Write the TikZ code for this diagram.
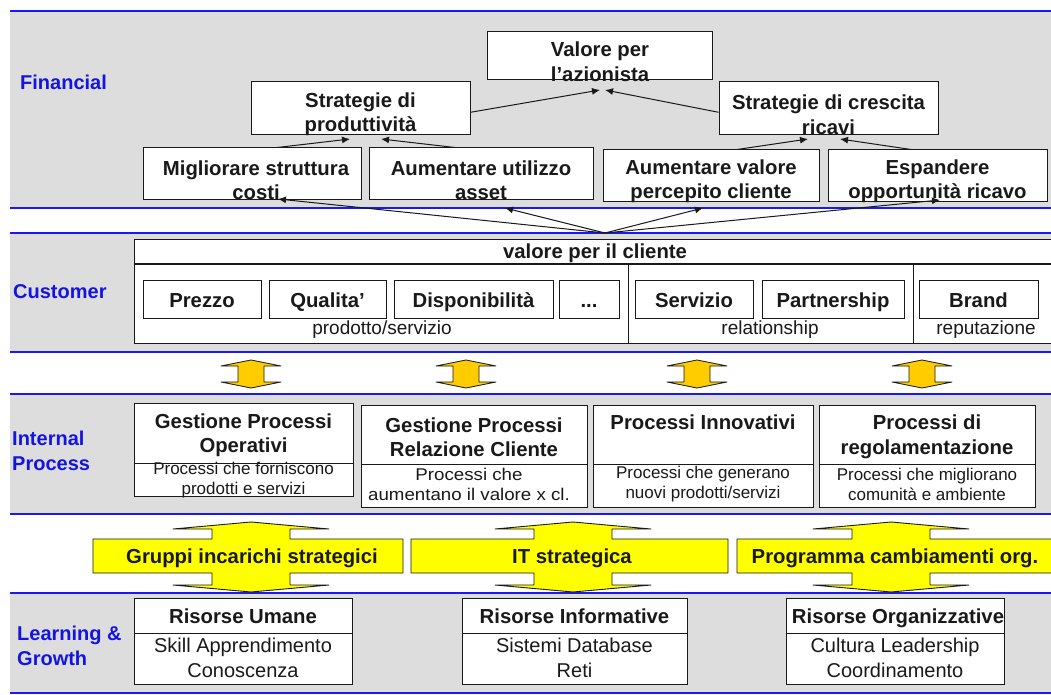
\documentclass[tikz,border=0pt]{standalone}
\usepackage{fontspec}
\setmainfont{Liberation Sans}
\usetikzlibrary{arrows.meta,fit,calc}
\definecolor{bandgray}{RGB}{221,221,221}
\definecolor{laneblue}{RGB}{25,25,240}
\definecolor{labelblue}{RGB}{20,20,225}
\definecolor{gold}{RGB}{255,204,0}
\definecolor{brightyellow}{RGB}{255,255,0}
\definecolor{ink}{RGB}{25,25,25}

% flat vertical double arrow between two lanes
\newcommand\smallupdown[1]{%
  \filldraw[smallarr] (#1,360) -- (#1+30,366) -- (#1+13,366) -- (#1+13,382)
    -- (#1+30,382) -- (#1,388) -- (#1-30,382) -- (#1-13,382) -- (#1-13,366)
    -- (#1-30,366) -- cycle;}
% horizontal banner crossed by a vertical double arrow
\newcommand\bigcross[3]{%
  \filldraw[bigarr] (#1,522) -- (#1+78,529) -- (#1+39,529) -- (#1+39,539)
    -- (#3,539) -- (#3,573) -- (#1+39,573) -- (#1+39,585) -- (#1+78,585)
    -- (#1,592) -- (#1-78,585) -- (#1-39,585) -- (#1-39,573) -- (#2,573)
    -- (#2,539) -- (#1-39,539) -- (#1-39,529) -- (#1-78,529) -- cycle;}

\begin{document}
\begin{tikzpicture}[x=1pt,y=-1pt,
  laneline/.style={draw=laneblue,line width=1.4pt},
  lane/.style={anchor=west,align=left,inner sep=0pt,text=labelblue,
    font={\fontsize{20}{25}\selectfont\bfseries}},
  box/.style={draw=ink,line width=1pt,fill=white,inner sep=0pt},
  boxline/.style={draw=ink,line width=1pt},
  bt/.style={inner sep=0pt,align=center,text=ink,
    font={\fontsize{20.3}{24.5}\selectfont\bfseries}},
  single/.style={text height=15pt,text depth=4pt},
  rt/.style={inner sep=0pt,align=center,text=ink,
    font={\fontsize{17}{20}\selectfont}},
  rtl/.style={inner sep=0pt,align=center,text=ink,
    font={\fontsize{20}{25}\selectfont}},
  grp/.style={inner sep=0pt,align=center,text=ink,text height=14pt,text depth=4pt,
    font={\fontsize{19}{22}\selectfont}},
  conn/.style={draw=ink,line width=1pt,-{Latex[length=8pt,width=7pt]}},
  smallarr/.style={fill=gold,draw=ink,line width=0.8pt,line join=round},
  bigarr/.style={fill=brightyellow,draw=ink,line width=0.9pt,line join=round}]

\useasboundingbox (0,0) rectangle (1051,695);
\clip (0,0) rectangle (1051,695);
\fill[white] (0,0) rectangle (1051,695);

% lane backgrounds and separators
\fill[bandgray] (10,11) rectangle (1051,208);
\fill[bandgray] (10,233) rectangle (1051,352);
\fill[bandgray] (10,394) rectangle (1051,514);
\fill[bandgray] (10,593) rectangle (1051,693);
\foreach \y in {11,208,233,352,394,514,593,693}
  \draw[laneline] (10,\y) -- (1051,\y);

% lane titles
\node[lane] (lane-fin) at (20,82) {Financial};
\node[lane] (lane-cus) at (13,292) {Customer};
\node[lane] (lane-int) at (12,451) {Internal\\Process};
\node[lane] (lane-lea) at (17,646) {Learning \&\\Growth};

% ---------------- Financial ----------------
\node[box,fit={(487,32) (712,80)}] (val) {};
\node[box,fit={(251,82) (470,135)}] (prod) {};
\node[box,fit={(719,82) (938,135)}] (cres) {};
\node[box,fit={(143,148) (361,199)}] (mig) {};
\node[box,fit={(369,148) (593,199)}] (util) {};
\node[box,fit={(603,150) (819,201)}] (aval) {};
\node[box,fit={(828,150) (1047,201)}] (esp) {};

\node[bt] (val-t) at (600,61.5) {Valore per\\l’azionista};
\node[bt] (prod-t) at (360.5,114.5) {Strategie di\\produttività};
\node[bt] (cres-t) at (828.5,114.5) {Strategie di crescita\\ricavi};
\node[bt] (mig-t) at (256,180) {Migliorare struttura\\costi};
\node[bt] (util-t) at (481,180) {Aumentare utilizzo\\asset};
\node[bt] (aval-t) at (711,181.5) {Aumentare valore\\percepito cliente};
\node[bt] (esp-t) at (937.5,181.5) {Espandere\\opportunità ricavo};

\coordinate (vL) at (600,90);
\coordinate (vR) at (605,90);
\coordinate (pL) at (350,139);
\coordinate (pR) at (381,139);
\coordinate (cL) at (808,139);
\coordinate (cR) at (840,139);
\draw[conn] ($(prod.north east)!0.57!(prod.south east)$) -- (vL);
\draw[conn] ($(cres.north west)!0.57!(cres.south west)$) -- (vR);
\draw[conn] ($(mig.north west)!0.615!(mig.north east)$) -- (pL);
\draw[conn] ($(util.north west)!0.384!(util.north east)$) -- (pR);
\draw[conn] ($(aval.north west)!0.62!(aval.north east)$) -- (cL);
\draw[conn] ($(esp.north west)!0.38!(esp.north east)$) -- (cR);

% ---------------- Customer ----------------
\node[box,fit={(134,239) (1060,343)}] (cv) {};
\draw[boxline,line width=1.7pt] (134,264) -- (1060,264);
\draw[boxline] (628,264) -- (628,343);
\draw[boxline] (913,264) -- (913,343);
\node[bt,single] (cv-t) at (595,252.5) {valore per il cliente};

\node[box,fit={(143,280) (261,318)}] (pre) {};
\node[box,fit={(269,280) (386,318)}] (qua) {};
\node[box,fit={(394,280) (553,318)}] (dis) {};
\node[box,fit={(559,280) (619,318)}] (dots) {};
\node[box,fit={(635,280) (753,318)}] (ser) {};
\node[box,fit={(762,280) (904,318)}] (par) {};
\node[box,fit={(919,280) (1038,318)}] (bra) {};
\node[bt,single] (pre-t) at (202,302) {Prezzo};
\node[bt,single] (qua-t) at (327.5,302) {Qualita’};
\node[bt,single] (dis-t) at (473.5,302) {Disponibilità};
\node[bt,single] (dots-t) at (589,302) {...};
\node[bt,single] (ser-t) at (694,302) {Servizio};
\node[bt,single] (par-t) at (833,302) {Partnership};
\node[bt,single] (bra-t) at (978.5,302) {Brand};
\node[grp] (g1) at (382,329) {prodotto/servizio};
\node[grp] (g2) at (770,329) {relationship};
\node[grp] (g3) at (986,329) {reputazione};

% fan of arrows from the customer value
\coordinate (fan) at (605,233);
\coordinate (f1) at (278,199);
\coordinate (f2) at (505,208);
\coordinate (f3) at (703,208);
\coordinate (f4) at (940,200);
\foreach \t in {f1,f2,f3,f4} \draw[conn] (fan) -- (\t);

% links between customer and internal process
\smallupdown{251}
\smallupdown{466}
\smallupdown{697}
\smallupdown{922}

% ---------------- Internal process ----------------
\node[box,fit={(134,403) (353,496)}] (ip1) {};
\node[box,fit={(361,405) (587,507)}] (ip2) {};
\node[box,fit={(593,405) (813,507)}] (ip3) {};
\node[box,fit={(819,405) (1035,507)}] (ip4) {};
\draw[boxline] (134,463) -- (353,463);
\draw[boxline] (361,464) -- (587,464);
\draw[boxline] (593,464) -- (813,464);
\draw[boxline] (819,464) -- (1035,464);

\node[bt] (ip1-t) at (243.5,435) {Gestione Processi\\Operativi};
\node[bt] (ip2-t) at (474,437) {Gestione Processi\\Relazione Cliente};
\node[bt,single] (ip3-t) at (703,423.5) {Processi Innovativi};
\node[bt] (ip4-t) at (927,437) {Processi di\\regolamentazione};
\node[rt] (ip1-s) at (243.5,480) {Processi che forniscono\\prodotti e servizi};
\node[rt] (ip2-s) at (469,484) {\scalebox{1.1}[1]{Processi che}\\\scalebox{1.1}[1]{aumentano il valore x cl.}};
\node[rt] (ip3-s) at (703,484) {Processi che generano\\nuovi prodotti/servizi};
\node[rt] (ip4-s) at (927,484) {Processi che migliorano\\comunità e ambiente};

% ---------------- enablers ----------------
\bigcross{251}{93}{403}
\bigcross{573}{411}{728}
\bigcross{891}{737}{1060}
\node[bt,single] (e1) at (252,557.5) {Gruppi incarichi strategici};
\node[bt,single] (e2) at (572,557.5) {IT strategica};
\node[bt,single] (e3) at (895,557.5) {Programma cambiamenti org.};

% ---------------- Learning & Growth ----------------
\node[box,fit={(134,598) (352,684)}] (lr1) {};
\node[box,fit={(462,598) (687,684)}] (lr2) {};
\node[box,fit={(786,598) (1004,684)}] (lr3) {};
\draw[boxline] (134,633) -- (352,633);
\draw[boxline] (462,633) -- (687,633);
\draw[boxline] (786,633) -- (1004,633);
\node[bt,single] (lr1-t) at (243,617.5) {Risorse Umane};
\node[bt,single] (lr2-t) at (574.5,617.5) {Risorse Informative};
\node[bt,single] (lr3-t) at (898,617.5) {Risorse Organizzative};
\node[rtl] (lr1-s) at (243,657.5) {Skill Apprendimento\\Conoscenza};
\node[rtl] (lr2-s) at (574.5,657.5) {Sistemi Database\\Reti};
\node[rtl] (lr3-s) at (895,657.5) {Cultura Leadership\\Coordinamento};

\end{tikzpicture}
\end{document}
